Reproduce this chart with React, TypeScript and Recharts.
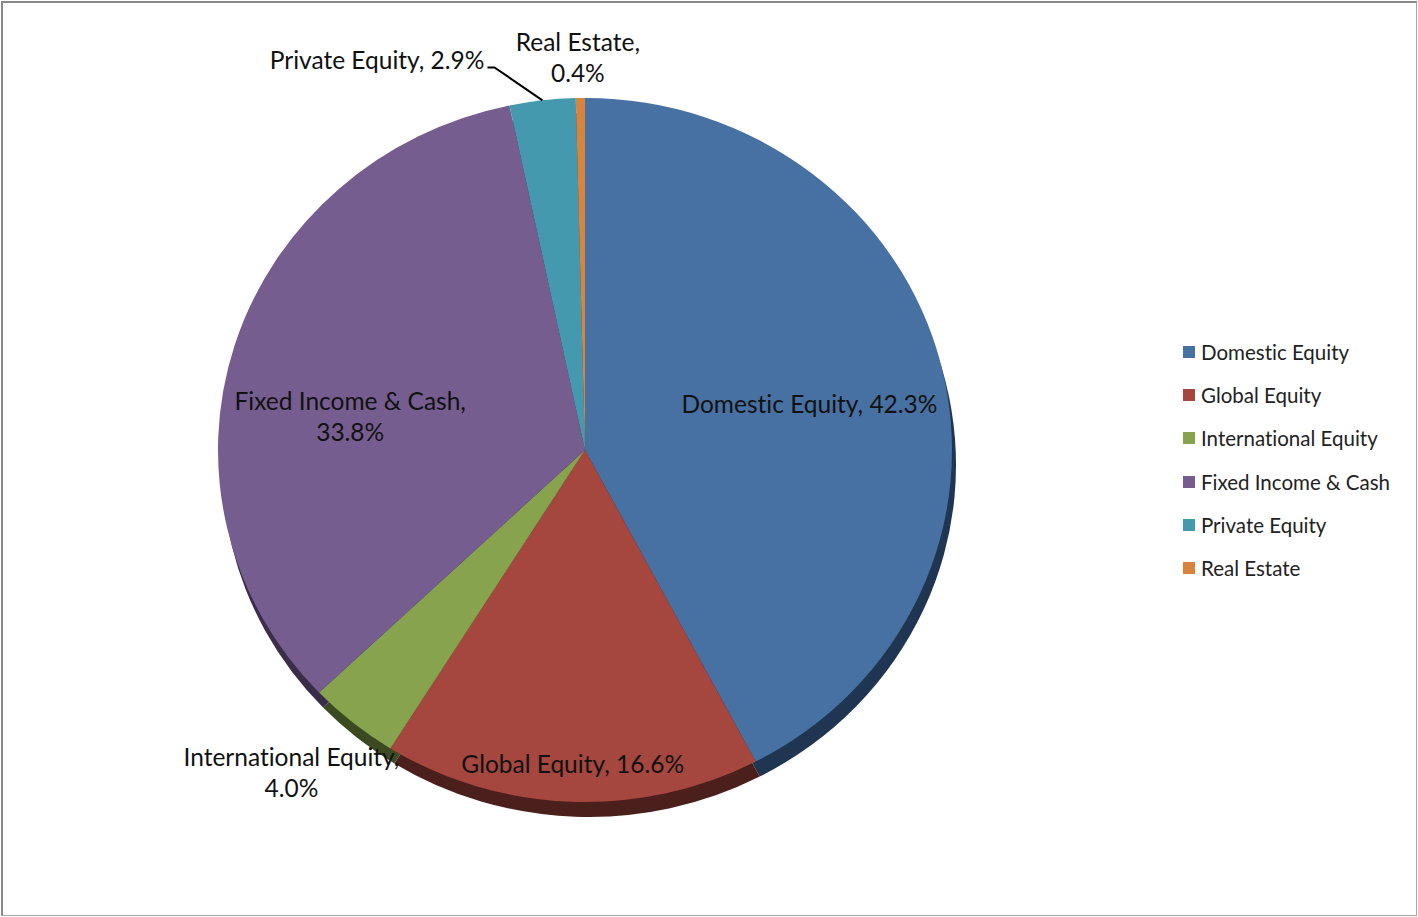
import React from "react";
import { PieChart, Pie, Cell, Sector } from "recharts";

const categories = [
  "Domestic Equity",
  "Global Equity",
  "International Equity",
  "Fixed Income & Cash",
  "Private Equity",
  "Real Estate",
];
const shares = [42.3, 16.6, 4.0, 33.8, 2.9, 0.4];

const COLORS = ["#4770A3", "#A5463F", "#87A34D", "#755D8F", "#4599AF", "#D9843D"];
const SIDE_COLORS = ["#1F3551", "#4A1F1C", "#3C4A22", "#3A2D4A", "#1F4A55", "#6A3F1C"];

// label placement: radius factor along the slice mid angle, plus small nudges
const LABEL_K = [0.63, 0.89, 1.2, 0.67, 1.0, 1.116];
const LABEL_DX = [0, 0, -15, 0, 0, -2];
const LABEL_DY = [7, 0, -5, 36, 0, 0];
const LABEL_LINES = [1, 1, 2, 2, 1, 2];

const data = categories.map((name, i) => ({ name, value: shares[i] }));

const W = 1418;
const H = 917;
const CX = 585;
const CY = 450;
const RX = 367;
const RY = 352;
const DEPTH_X = 4;
const DEPTH_Y = 15;
const FONT = "Lato, 'Open Sans', sans-serif";
const LABEL_SIZE = 24.5;
const RAD = Math.PI / 180;

// squash each sector vertically to get the tilted (elliptical) look
const TiltedSector = (props: any) => {
  const { cx, cy } = props;
  const s = RY / RX;
  return (
    <g transform={`translate(${cx} ${cy}) scale(1 ${s}) translate(${-cx} ${-cy})`}>
      <Sector {...props} stroke="none" />
    </g>
  );
};

const textStyle = {
  fontFamily: FONT,
  fontSize: LABEL_SIZE,
  fill: "#111",
  fontVariantLigatures: "none",
} as React.CSSProperties;

const renderLabel = (props: any) => {
  const { cx, cy, midAngle, index, name, value } = props;
  const k = LABEL_K[index];
  const x = cx + k * RX * Math.cos(-midAngle * RAD) + LABEL_DX[index];
  const y = cy + k * RY * Math.sin(-midAngle * RAD) + LABEL_DY[index];
  const pct = `${Number(value).toFixed(1)}%`;

  if (index === 4) {
    // leader line label for the small slice
    const ex = x - 48;
    const ey = y - 33;
    return (
      <g>
        <polyline
          points={`${x},${y} ${ex},${ey} ${ex - 7},${ey}`}
          fill="none"
          stroke="#000"
          strokeWidth={2}
        />
        <text
          x={ex - 10}
          y={ey - 8}
          textAnchor="end"
          dominantBaseline="central"
          style={textStyle}
        >
          {`${name}, ${pct}`}
        </text>
      </g>
    );
  }

  if (LABEL_LINES[index] === 2) {
    return (
      <text x={x} y={y} textAnchor="middle" style={textStyle}>
        <tspan x={x} y={y - 15.5} dominantBaseline="central">{`${name},`}</tspan>
        <tspan x={x} y={y + 15.5} dominantBaseline="central">{pct}</tspan>
      </text>
    );
  }

  return (
    <text x={x} y={y} textAnchor="middle" dominantBaseline="central" style={textStyle}>
      {`${name}, ${pct}`}
    </text>
  );
};

const ChartLegend = () => (
  <div
    style={{
      position: "absolute",
      left: 1183,
      top: 330,
      fontFamily: FONT,
      fontSize: 20.5,
      color: "#222",
      fontVariantLigatures: "none",
    }}
  >
    {categories.map((name, i) => (
      <div key={name} style={{ display: "flex", alignItems: "center", height: 43.3 }}>
        <span
          style={{
            display: "inline-block",
            width: 12,
            height: 12,
            background: COLORS[i],
            marginRight: 6,
          }}
        />
        <span>{name}</span>
      </div>
    ))}
  </div>
);

export default function App() {
  return (
    <div
      style={{
        position: "absolute",
        left: 0,
        top: 0,
        width: W,
        height: H,
        background: "#fff",
        overflow: "hidden",
      }}
    >
      <PieChart width={W} height={H} margin={{ top: 0, right: 0, bottom: 0, left: 0 }}>
        {/* side / depth of the tilted pie */}
        <Pie
          data={data}
          dataKey="value"
          nameKey="name"
          cx={CX + DEPTH_X}
          cy={CY + DEPTH_Y}
          outerRadius={RX}
          startAngle={90}
          endAngle={-270}
          shape={TiltedSector}
          isAnimationActive={false}
          legendType="none"
          labelLine={false}
        >
          {data.map((_, i) => (
            <Cell key={`side-${i}`} fill={SIDE_COLORS[i]} stroke="none" />
          ))}
        </Pie>
        <Pie
          data={data}
          dataKey="value"
          nameKey="name"
          cx={CX}
          cy={CY}
          outerRadius={RX}
          startAngle={90}
          endAngle={-270}
          shape={TiltedSector}
          isAnimationActive={false}
          label={renderLabel}
          labelLine={false}
        >
          {data.map((_, i) => (
            <Cell key={`cell-${i}`} fill={COLORS[i]} stroke="none" />
          ))}
        </Pie>
      </PieChart>
      <ChartLegend />
      <div
        style={{
          position: "absolute",
          left: 1,
          top: 1,
          width: 1416,
          height: 915,
          boxSizing: "border-box",
          borderLeft: "2px solid #898989",
          borderTop: "2px solid #898989",
          borderRight: "1px solid #a6a6a6",
          borderBottom: "1px solid #a6a6a6",
          pointerEvents: "none",
        }}
      />
    </div>
  );
}
